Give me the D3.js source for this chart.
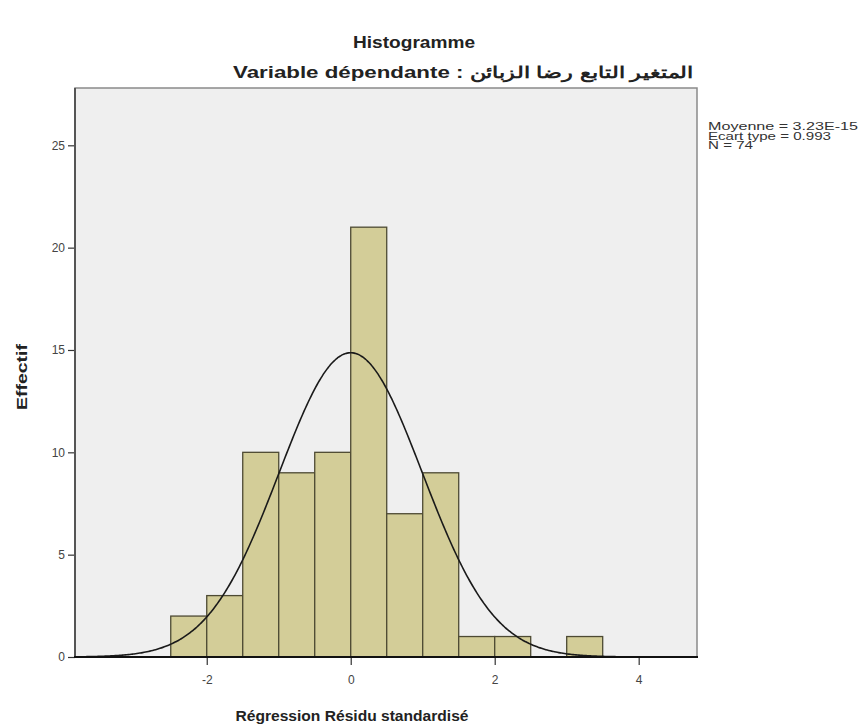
<!DOCTYPE html>
<html>
<head>
<meta charset="utf-8">
<script src="https://cdn.jsdelivr.net/npm/d3@7"></script>
<style>
  html, body { margin: 0; padding: 0; background: #ffffff; }
  svg { display: block; font-family: "Liberation Sans", Arial, sans-serif; }
</style>
</head>
<body>
<svg id="chart" width="862" height="728"></svg>
<script>
// Histogram of standardized regression residuals with normal curve
const binStarts = [-2.5, -2.0, -1.5, -1.0, -0.5, 0.0, 0.5, 1.0, 1.5, 2.0, 2.5, 3.0];
const binWidth = 0.5;
const counts = [2, 3, 10, 9, 10, 21, 7, 9, 1, 1, 0, 1];
const xTicks = [-2, 0, 2, 4];
const yTicks = [0, 5, 10, 15, 20, 25];
const stats = { mean: 3.23e-15, sd: 0.993, n: 74 };
const statLines = ["Moyenne = 3.23E-15", "Ecart type = 0.993", "N = 74"];

const svg = d3.select("#chart");
const plot = { left: 75, right: 697, top: 88, bottom: 657 };

const x = d3.scaleLinear().domain([-3.83, 4.81]).range([plot.left, plot.right]);
const y = d3.scaleLinear().domain([0, 27.8]).range([plot.bottom, plot.top]);

// plot background
svg.append("rect")
  .attr("x", plot.left).attr("y", plot.top)
  .attr("width", plot.right - plot.left).attr("height", plot.bottom - plot.top)
  .attr("fill", "#efefef")
  .attr("stroke", "#8a8a8a").attr("stroke-width", 1.5);

// bars
const bins = binStarts.map((s, i) => ({ x0: s, x1: s + binWidth, c: counts[i] }));
svg.append("g").selectAll("rect")
  .data(bins.filter(d => d.c > 0))
  .join("rect")
  .attr("x", d => x(d.x0))
  .attr("y", d => y(d.c))
  .attr("width", d => x(d.x1) - x(d.x0))
  .attr("height", d => y(0) - y(d.c))
  .attr("fill", "#d3cd98")
  .attr("stroke", "#4d4a33")
  .attr("stroke-width", 1.3);

// normal curve scaled to counts
const scaleK = stats.n * binWidth;
const pdf = v => Math.exp(-0.5 * Math.pow((v - stats.mean) / stats.sd, 2)) / (stats.sd * Math.sqrt(2 * Math.PI));
const xs = d3.range(x.domain()[0], x.domain()[1] + 0.001, 0.02);
svg.append("path")
  .datum(xs)
  .attr("fill", "none")
  .attr("stroke", "#1a1a1a")
  .attr("stroke-width", 1.6)
  .attr("d", d3.line().x(v => x(v)).y(v => y(scaleK * pdf(v))).curve(d3.curveBasis));

// axes
const xAxis = svg.append("g")
  .attr("transform", `translate(0,${plot.bottom})`)
  .call(d3.axisBottom(x).tickValues(xTicks).tickSize(8).tickPadding(10).tickFormat(d => String(d)));
xAxis.select(".domain").remove();
xAxis.selectAll("line").attr("stroke", "#333").attr("stroke-width", 1.2);
xAxis.selectAll("text").attr("fill", "#444").attr("font-size", 12);

const yAxis = svg.append("g")
  .attr("transform", `translate(${plot.left},0)`)
  .call(d3.axisLeft(y).tickValues(yTicks).tickSize(7).tickPadding(3).tickFormat(d => String(d)));
yAxis.select(".domain").remove();
yAxis.selectAll("line").attr("stroke", "#333").attr("stroke-width", 1.2);
yAxis.selectAll("text").attr("fill", "#444").attr("font-size", 12);

// axis lines
svg.append("line").attr("x1", plot.left).attr("x2", plot.left).attr("y1", plot.top).attr("y2", plot.bottom)
  .attr("stroke", "#555").attr("stroke-width", 2);
svg.append("line").attr("x1", plot.left - 1).attr("x2", plot.right + 1).attr("y1", plot.bottom).attr("y2", plot.bottom)
  .attr("stroke", "#111").attr("stroke-width", 2.2);

// titles
svg.append("text").attr("x", 414).attr("y", 48).attr("text-anchor", "middle")
  .attr("font-size", 17).attr("font-weight", "bold").attr("fill", "#222")
  .attr("textLength", 122).attr("lengthAdjust", "spacingAndGlyphs").text("Histogramme");
svg.append("text").attr("x", 463).attr("y", 78).attr("text-anchor", "middle")
  .attr("font-size", 16).attr("font-weight", "bold").attr("fill", "#222")
  .attr("textLength", 460).attr("lengthAdjust", "spacingAndGlyphs")
  .text("Variable dépendante : المتغير التابع رضا الزبائن");

svg.append("text").attr("x", 352).attr("y", 721).attr("text-anchor", "middle")
  .attr("font-size", 15).attr("font-weight", "bold").attr("fill", "#222")
  .attr("textLength", 233).attr("lengthAdjust", "spacingAndGlyphs")
  .text("Régression Résidu standardisé");
svg.append("text").attr("transform", "translate(27,377) rotate(-90)").attr("text-anchor", "middle")
  .attr("font-size", 15).attr("font-weight", "bold").attr("fill", "#222")
  .attr("textLength", 66).attr("lengthAdjust", "spacingAndGlyphs").text("Effectif");

// statistics block
svg.append("g").selectAll("text").data(statLines).join("text")
  .attr("x", 708).attr("y", (d, i) => 130 + i * 9.5)
  .attr("font-size", 10).attr("fill", "#333")
  .attr("textLength", (d, i) => [150, 123, 45][i]).attr("lengthAdjust", "spacingAndGlyphs")
  .text(d => d);
</script>
</body>
</html>
